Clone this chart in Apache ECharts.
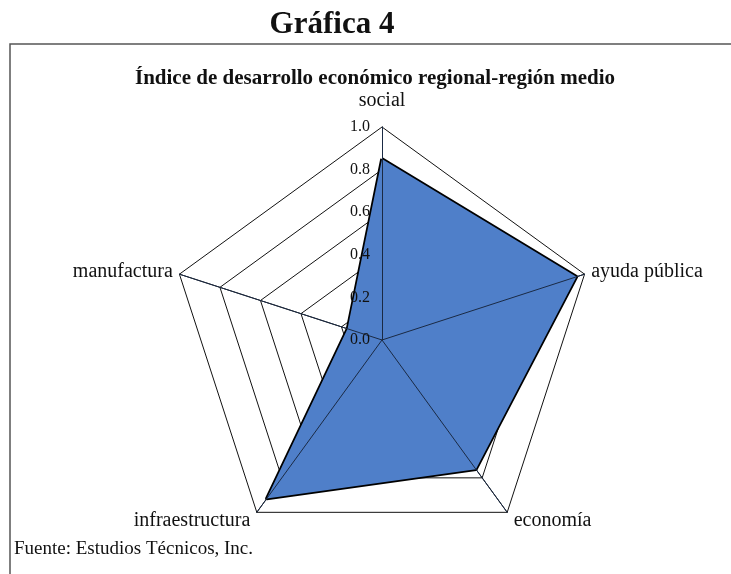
<!DOCTYPE html>
<html>
<head>
<meta charset="utf-8">
<title>Gráfica 4</title>
<script src="https://cdn.jsdelivr.net/npm/echarts@6/dist/echarts.min.js"></script>
<style>
    html, body {
        margin: 0;
        padding: 0;
        background: #fff;
    }

    #chart {
        width: 731px;
        height: 574px;
    }
</style>
</head>
<body>
<div id="chart"></div>
<script>
// ejes del radar (orden antihorario desde arriba, como los dibuja ECharts)
const ejes = ['social', 'manufactura', 'infraestructura', 'economía', 'ayuda pública'];
// valores del índice para la región medio
const valores = [0.85, 0.17, 0.92, 0.75, 0.96];
// marcas del eje
const marcas = ['0.0', '0.2', '0.4', '0.6', '0.8', '1.0'];

const fuente = 'Liberation Serif, Times New Roman, serif';
const centro = [382, 340];
const radio = 213;
// separación de cada nombre respecto al vértice
const separacion = [16, 7, 11, 11, 7];

const chart = echarts.init(document.getElementById('chart'));

// indicadores; solo el primero (social) lleva las marcas
function indicadores(conMarcas) {
    return ejes.map((nombre, i) => {
        const ind = { name: nombre, min: 0, max: 1, nameGap: separacion[i] };
        if (conMarcas && i === 0) {
            ind.axisLabel = {
                show: true,
                showMinLabel: true,
                showMaxLabel: true,
                margin: 12,
                fontFamily: fuente,
                fontSize: 16,
                color: '#111',
                formatter: (v) => marcas[Math.round(v * 5)]
            };
        }
        return ind;
    });
}

chart.setOption({
    animation: false,
    title: [
        {
            text: 'Gráfica 4',
            left: 332,
            top: 9,
            padding: 0,
            textAlign: 'center',
            textStyle: { fontFamily: fuente, fontSize: 31, fontWeight: 'bold', color: '#111' }
        },
        {
            text: 'Índice de desarrollo económico regional-región medio',
            left: 375,
            top: 68,
            padding: 0,
            textAlign: 'center',
            textStyle: { fontFamily: fuente, fontSize: 21, fontWeight: 'bold', color: '#111' }
        },
        {
            text: 'Fuente: Estudios Técnicos, Inc.',
            left: 14,
            top: 540,
            padding: 0,
            textStyle: { fontFamily: fuente, fontSize: 19, fontWeight: 'normal', color: '#111' }
        }
    ],
    // marco de la gráfica
    graphic: [{
        type: 'rect',
        shape: { x: 10, y: 44, width: 740, height: 600 },
        style: { fill: 'none', stroke: '#555', lineWidth: 1.5 }
    }],
    radar: [
        {
            // anillos y nombres, debajo del área
            center: centro,
            radius: radio,
            shape: 'polygon',
            splitNumber: marcas.length - 1,
            indicator: indicadores(false),
            axisName: {
                color: '#111',
                fontFamily: fuente,
                fontSize: 20
            },
            axisLine: { lineStyle: { color: '#111', width: 1 } },
            splitLine: { lineStyle: { color: '#111', width: 1 } },
            splitArea: { show: false },
            axisTick: { show: false },
            axisLabel: { show: false }
        },
        {
            // radios y marcas, encima del área
            z: 5,
            center: centro,
            radius: radio,
            shape: 'polygon',
            splitNumber: marcas.length - 1,
            indicator: indicadores(true),
            axisName: { show: false },
            axisLine: { lineStyle: { color: '#1a2a44', width: 1 } },
            splitLine: { show: false },
            splitArea: { show: false },
            axisTick: { show: false },
            axisLabel: { show: false }
        }
    ],
    series: [{
        type: 'radar',
        radarIndex: 0,
        symbol: 'none',
        lineStyle: { color: '#000', width: 3.5 },
        areaStyle: { color: '#4f7fc9', opacity: 1 },
        data: [{ value: valores, name: 'región medio' }]
    }]
});
</script>
</body>
</html>
